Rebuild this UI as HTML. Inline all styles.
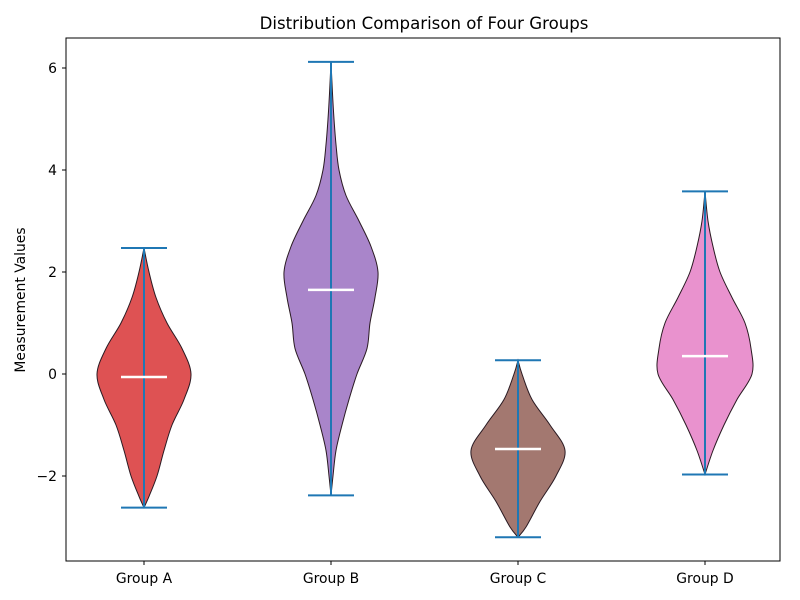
<!DOCTYPE html>
<html><head><meta charset="utf-8"><style>
body{margin:0;background:#fff;}
svg{display:block;font-family:"DejaVu Sans","Liberation Sans",sans-serif;}
</style></head><body>
<svg id="chart" width="800" height="600">
<rect x="0" y="0" width="800" height="600" fill="#fff"/>
<text x="424" y="29" font-size="16.6" text-anchor="middle">Distribution Comparison of Four Groups</text>
<g id="plot"></g>
<rect x="66" y="38" width="714" height="523" fill="none" stroke="#000" stroke-width="1"/>
<text transform="translate(25,300) rotate(-90)" font-size="13.9" text-anchor="middle">Measurement Values</text>
</svg>
<script>
const categories=["Group A","Group B","Group C","Group D"];
const colors=["#de5253","#a985ca","#a37870","#e992ce"];
const mins=[-2.62,-2.38,-3.2,-1.97];
const maxs=[2.47,6.12,0.27,3.58];
const medians=[-0.06,1.65,-1.47,0.35];
const profileA=[[2.47,0],[2.0,5],[1.5,12],[1.0,23],[0.5,38],[0,47],[-0.5,40],[-1.0,28],[-1.5,20],[-2.0,13],[-2.4,5],[-2.62,0]];
const profileB=[[6.12,0],[5.5,1.5],[5.0,3],[4.5,5],[4.0,8],[3.5,15],[3.0,28],[2.5,40],[2.0,47],[1.5,44],[1.0,39],[0.5,36],[0,26],[-0.5,18],[-1.0,11],[-1.5,5],[-2.0,2],[-2.38,0]];
const profileC=[[0.27,0],[0,4],[-0.5,14],[-1.0,32],[-1.5,47],[-2.0,38],[-2.5,22],[-3.0,8],[-3.2,0]];
const profileD=[[3.58,0],[3.0,3],[2.5,8],[2.0,15],[1.5,27],[1.0,40],[0.5,46],[0,47],[-0.5,32],[-1.0,19],[-1.5,8],[-1.97,0]];
const profiles=[profileA,profileB,profileC,profileD];
const yTicks=[-2,0,2,4,6];
const yLabels=["\u22122","0","2","4","6"];

const NS="http://www.w3.org/2000/svg";
const plot=document.getElementById('plot');
function yS(v){return 374-51*v;}
function xS(i){return 144+187*i;}
function mk(t,a,p){const e=document.createElementNS(NS,t);for(const k in a)e.setAttribute(k,a[k]);(p||plot).appendChild(e);return e;}
function smooth(pts){let d="M"+pts[0][0]+","+pts[0][1];for(let i=0;i<pts.length-1;i++){const p0=pts[Math.max(i-1,0)],p1=pts[i],p2=pts[i+1],p3=pts[Math.min(i+2,pts.length-1)];const c1=[p1[0]+(p2[0]-p0[0])/6,p1[1]+(p2[1]-p0[1])/6],c2=[p2[0]-(p3[0]-p1[0])/6,p2[1]-(p3[1]-p1[1])/6];d+=" C"+c1[0]+","+c1[1]+" "+c2[0]+","+c2[1]+" "+p2[0]+","+p2[1];}return d;}
yTicks.forEach((v,i)=>{
  const l=mk('line',{x1:62,x2:66,y1:yS(v),y2:yS(v),stroke:'#000'});
  
  
  const t=mk('text',{x:57,y:yS(v)+5,'font-size':13.9,'text-anchor':'end'});t.textContent=yLabels[i];
  
  
});
categories.forEach((c,i)=>{
  const x=xS(i),pr=profiles[i];
  const right=pr.map(p=>[x+p[1],yS(p[0])]);
  const left=pr.slice().reverse().map(p=>[x-p[1],yS(p[0])]);
  const d=smooth(right)+" L"+smooth(left).slice(1)+" Z";
  const v=mk('path',{d:d,fill:colors[i],stroke:'#2a1a22','stroke-width':1});
  
  
  const s=mk('line',{x1:x,x2:x,y1:yS(maxs[i]),y2:yS(mins[i]),stroke:'#1f77b4','stroke-width':2});
  
  
  [maxs[i],mins[i]].forEach(val=>{
    const cap=mk('line',{x1:x-23,x2:x+23,y1:yS(val),y2:yS(val),stroke:'#1f77b4','stroke-width':2});
    
    
  });
  const m=mk('line',{x1:x-23,x2:x+23,y1:yS(medians[i]),y2:yS(medians[i]),stroke:'#fff','stroke-width':2.5});
  
  
  const tk=mk('line',{x1:x,x2:x,y1:561,y2:565,stroke:'#000'});
  
  
  const t=mk('text',{x:x,y:583,'font-size':13.9,'text-anchor':'middle'});t.textContent=c;
  
  
});
</script>
</body></html>
